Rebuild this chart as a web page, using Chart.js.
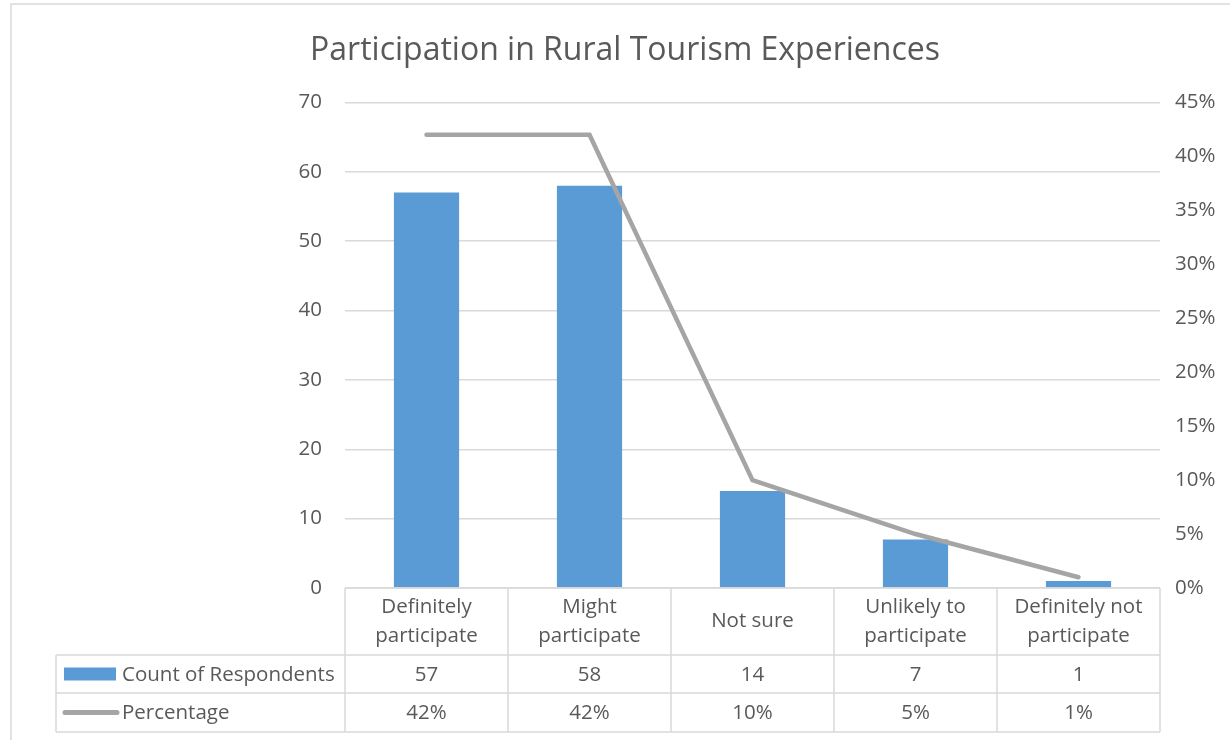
<!DOCTYPE html>
<html>
<head>
<meta charset="utf-8">
<script src="https://cdn.jsdelivr.net/npm/chart.js@4.4.1/dist/chart.umd.min.js"></script>
<style>
  html, body { margin: 0; padding: 0; background: #ffffff; }
  #wrap { width: 1230px; height: 740px; position: relative; }
</style>
</head>
<body>
<div id="wrap"><canvas id="c" width="1230" height="740"></canvas></div>
<script>
const titleText = 'Participation in Rural Tourism Experiences';
const categories = [
  ['Definitely', 'participate'],
  ['Might', 'participate'],
  ['Not sure'],
  ['Unlikely to', 'participate'],
  ['Definitely not', 'participate']
];
const countLabel = 'Count of Respondents';
const percentLabel = 'Percentage';
const counts = [57, 58, 14, 7, 1];
const percentages = [0.42, 0.42, 0.10, 0.05, 0.01];
const leftTicks = { min: 0, max: 70, step: 10 };
const rightTicks = { min: 0, max: 0.45, step: 0.05 };

const FONT = "'Open Sans', 'DejaVu Sans', sans-serif";
const FS = 20.5;
const TEXT = '#595959';
const GRID = '#D9D9D9';
const BLUE = '#5B9BD5';
const GRAY = '#A5A5A5';

const pct = v => Math.round(v * 100) + '%';

const frame = {
  id: 'frame',
  beforeDraw(chart) {
    const ctx = chart.ctx;
    ctx.save();
    ctx.fillStyle = '#ffffff';
    ctx.fillRect(0, 0, chart.width, chart.height);
    ctx.strokeStyle = GRID;
    ctx.lineWidth = 1.5;
    ctx.strokeRect(11, 4, 1400, 900);
    ctx.restore();
  }
};

const dataTable = {
  id: 'dataTable',
  afterDraw(chart) {
    const ctx = chart.ctx;
    const xs = chart.scales.x;
    const n = categories.length;
    const half = (xs.getPixelForValue(1) - xs.getPixelForValue(0)) / 2;
    const left = xs.getPixelForValue(0) - half;
    const right = xs.getPixelForValue(n - 1) + half;
    const top = chart.chartArea.bottom;
    const r1 = top + 67, r2 = r1 + 38, r3 = r2 + 39;
    const legendLeft = 56;

    ctx.save();
    ctx.strokeStyle = GRID;
    ctx.lineWidth = 1.5;
    ctx.beginPath();
    ctx.moveTo(left, top); ctx.lineTo(right, top);
    [r1, r2, r3].forEach(y => { ctx.moveTo(legendLeft, y); ctx.lineTo(right, y); });
    ctx.moveTo(legendLeft, r1); ctx.lineTo(legendLeft, r3);
    for (let i = 0; i <= n; i++) {
      const x = left + i * 2 * half;
      ctx.moveTo(x, top); ctx.lineTo(x, r3);
    }
    ctx.stroke();

    ctx.fillStyle = TEXT;
    ctx.font = FS + 'px ' + FONT;
    ctx.textAlign = 'center';
    ctx.textBaseline = 'middle';
    const lh = 29;
    for (let i = 0; i < n; i++) {
      const cx = xs.getPixelForValue(i);
      const lines = categories[i];
      const cy = (top + r1) / 2;
      lines.forEach((t, k) => {
        ctx.fillText(t, cx, cy + (k - (lines.length - 1) / 2) * lh);
      });
      ctx.fillText(String(counts[i]), cx, (r1 + r2) / 2 + 1);
      ctx.fillText(pct(percentages[i]), cx, (r2 + r3) / 2 + 1);
    }

    // legend keys
    ctx.fillStyle = BLUE;
    ctx.fillRect(64, (r1 + r2) / 2 - 6.5, 52, 13);
    ctx.strokeStyle = GRAY;
    ctx.lineWidth = 5;
    ctx.lineCap = 'round';
    ctx.beginPath();
    ctx.moveTo(65, (r2 + r3) / 2);
    ctx.lineTo(117, (r2 + r3) / 2);
    ctx.stroke();

    ctx.fillStyle = TEXT;
    ctx.textAlign = 'left';
    ctx.fillText(countLabel, 122, (r1 + r2) / 2 + 1);
    ctx.fillText(percentLabel, 122, (r2 + r3) / 2 + 1);
    ctx.restore();
  }
};

new Chart(document.getElementById('c'), {
  data: {
    labels: categories,
    datasets: [
      {
        type: 'line',
        label: percentLabel,
        data: percentages,
        yAxisID: 'y1',
        borderColor: GRAY,
        backgroundColor: GRAY,
        borderWidth: 4.5,
        pointRadius: 0,
        tension: 0,
        borderCapStyle: 'round',
        borderJoinStyle: 'miter',
        order: 0
      },
      {
        type: 'bar',
        label: countLabel,
        data: counts,
        yAxisID: 'y',
        backgroundColor: BLUE,
        borderWidth: 0,
        barPercentage: 1,
        categoryPercentage: 0.4,
        order: 1
      }
    ]
  },
  options: {
    responsive: false,
    animation: false,
    layout: { padding: { top: 0, bottom: 152, left: 20, right: 0 } },
    plugins: {
      legend: { display: false },
      tooltip: { enabled: false },
      title: {
        display: true,
        text: titleText,
        color: TEXT,
        font: { family: FONT, size: 32, weight: 'normal' },
        padding: { top: 32, bottom: 32 }
      }
    },
    scales: {
      x: { display: false, offset: true },
      y: {
        position: 'left',
        min: leftTicks.min, max: leftTicks.max,
        ticks: { stepSize: leftTicks.step, color: TEXT, font: { family: FONT, size: FS }, padding: 23 },
        grid: { color: GRID, lineWidth: 1.5, drawTicks: false },
        border: { display: false },
        afterFit(s) { s.width = 325; }
      },
      y1: {
        position: 'right',
        min: rightTicks.min, max: rightTicks.max,
        ticks: { stepSize: rightTicks.step, color: TEXT, font: { family: FONT, size: FS }, padding: 15, callback: v => pct(v) },
        grid: { display: false, drawTicks: false },
        border: { display: false },
        afterFit(s) { s.width = 70; }
      }
    }
  },
  plugins: [frame, dataTable]
});
</script>
</body>
</html>
